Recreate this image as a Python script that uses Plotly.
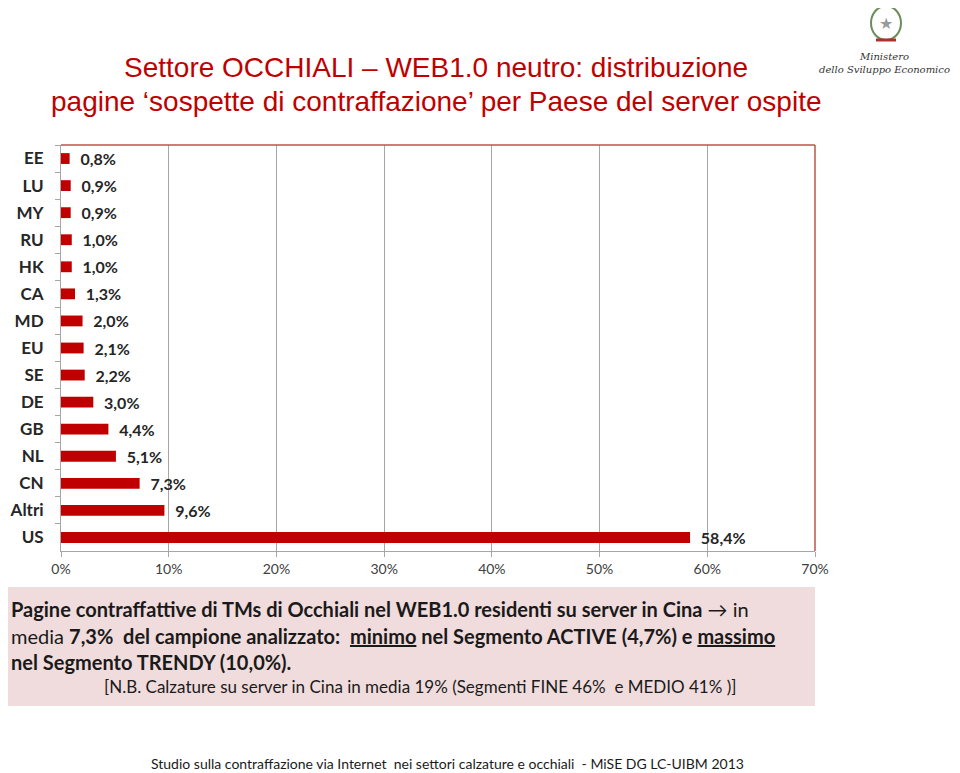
import plotly.graph_objects as go

# Data
countries = ['EE', 'LU', 'MY', 'RU', 'HK', 'CA', 'MD', 'EU', 'SE', 'DE',
             'GB', 'NL', 'CN', 'Altri', 'US']
shares = [0.8, 0.9, 0.9, 1.0, 1.0, 1.3, 2.0, 2.1, 2.2, 3.0,
          4.4, 5.1, 7.3, 9.6, 58.4]
x_ticks = [0, 10, 20, 30, 40, 50, 60, 70]

title_lines = [
    'Settore OCCHIALI \u2013 WEB1.0 neutro: distribuzione',
    'pagine \u2018sospette di contraffazione\u2019 per Paese del server ospite',
]
note_lines = [
    '<b>Pagine contraffattive di TMs di Occhiali nel WEB1.0 residenti su server in Cina</b> \u2192 in',
    'media <b>7,3%  del campione analizzato:  <u>minimo</u> nel Segmento ACTIVE (4,7%) e <u>massimo</u></b>',
    '<b>nel Segmento TRENDY (10,0%).</b>',
]
nb_line = '[N.B. Calzature su server in Cina in media 19% (Segmenti FINE 46%  e MEDIO 41% )]'
footer = 'Studio sulla contraffazione via Internet  nei settori calzature e occhiali  - MiSE DG LC-UIBM 2013'

# the page body adds an 8px margin, so work in screen pixels and shift back
OFF = 8
W, H = 960 - OFF, 773 - OFF
L, R, T, B = 61, 815, 145, 551
RED = '#C00000'
TXT = 'Lato, Calibri, sans-serif'


def px(x):
    return (x - L) / (R - L)


def py(y):
    return (B - y) / (B - T)


labels = ['  ' + f'{v:.1f}'.replace('.', ',') + '%' for v in shares]

fig = go.Figure(go.Bar(
    x=shares,
    y=countries,
    orientation='h',
    marker=dict(color=RED, line=dict(width=0)),
    text=labels,
    textposition='outside',
    constraintext='none',
    cliponaxis=False,
    textfont=dict(family=TXT, size=16, color='#262626', weight='bold'),
))

fig.update_layout(
    width=W, height=H,
    margin=dict(l=L - OFF, r=960 - R, t=T - OFF, b=773 - B, autoexpand=False),
    paper_bgcolor='white',
    plot_bgcolor='white',
    showlegend=False,
    bargap=0.6,
    font=dict(family=TXT),
    xaxis=dict(
        range=[0, 70],
        tickvals=x_ticks,
        ticktext=[f'{v}%' for v in x_ticks],
        automargin=False,
        showgrid=True,
        gridcolor='#A6A6A6',
        gridwidth=1,
        zeroline=False,
        showline=True,
        linecolor='#A6A6A6',
        ticks='outside',
        ticklen=5,
        tickcolor='#A6A6A6',
        tickfont=dict(family=TXT, size=14, color='#404040'),
    ),
    yaxis=dict(
        type='category',
        autorange='reversed',
        automargin=False,
        showline=True,
        linecolor='#A6A6A6',
        ticks='outside',
        ticklen=5,
        tickcolor='#A6A6A6',
        tickson='boundaries',
        ticklabelstandoff=13,
        showgrid=False,
        tickfont=dict(family=TXT, size=17, color='#262626', weight='bold'),
    ),
)

# red frame on top and right of the plot area
fig.add_shape(type='line', xref='paper', yref='paper', x0=0, x1=1, y0=1, y1=1,
              line=dict(color='#C0504D', width=1.5))
fig.add_shape(type='line', xref='paper', yref='paper', x0=1, x1=1, y0=0, y1=1,
              line=dict(color='#C0504D', width=1.5))

# title
for i, line in enumerate(title_lines):
    fig.add_annotation(
        text=line, xref='paper', yref='paper', x=px(436), y=py(68 + 34 * i),
        xanchor='center', yanchor='middle', showarrow=False,
        font=dict(family='Liberation Sans, Arial', size=28, color=RED),
    )

# ministry logo
fig.add_shape(type='circle', xref='paper', yref='paper',
              x0=px(871), x1=px(901), y0=py(6), y1=py(40),
              line=dict(color='#6B8E5A', width=2), fillcolor='white')
fig.add_shape(type='line', xref='paper', yref='paper',
              x0=px(876), x1=px(896), y0=py(40), y1=py(40),
              line=dict(color='#B03030', width=3))
fig.add_annotation(
    text='\u2605', xref='paper', yref='paper', x=px(886), y=py(23),
    xanchor='center', yanchor='middle', showarrow=False,
    font=dict(family='DejaVu Sans', size=16, color='#9A9A9A'),
)
fig.add_annotation(
    text='<i>Ministero<br>dello Sviluppo Economico</i>', xref='paper', yref='paper',
    x=px(884), y=py(63), xanchor='center', yanchor='middle', showarrow=False,
    font=dict(family='DejaVu Serif', size=10, color='#333333'),
)

# note box
fig.add_shape(type='rect', xref='paper', yref='paper',
              x0=px(5), x1=px(815), y0=py(587), y1=py(706),
              line=dict(width=0), fillcolor='#F0DCDC', layer='below')
for i, line in enumerate(note_lines):
    fig.add_annotation(
        text=line, xref='paper', yref='paper', x=px(9), y=py(609 + 26.5 * i),
        xanchor='left', yanchor='middle', showarrow=False,
        font=dict(family=TXT, size=20, color='#1A1A1A'),
    )
fig.add_annotation(
    text=nb_line, xref='paper', yref='paper', x=px(420), y=py(686),
    xanchor='center', yanchor='middle', showarrow=False,
    font=dict(family=TXT, size=17, color='#1A1A1A'),
)

# footer
fig.add_annotation(
    text=footer, xref='paper', yref='paper', x=px(447), y=py(763),
    xanchor='center', yanchor='middle', showarrow=False,
    font=dict(family=TXT, size=14, color='#1A1A1A'),
)

fig.write_html('out.html')
